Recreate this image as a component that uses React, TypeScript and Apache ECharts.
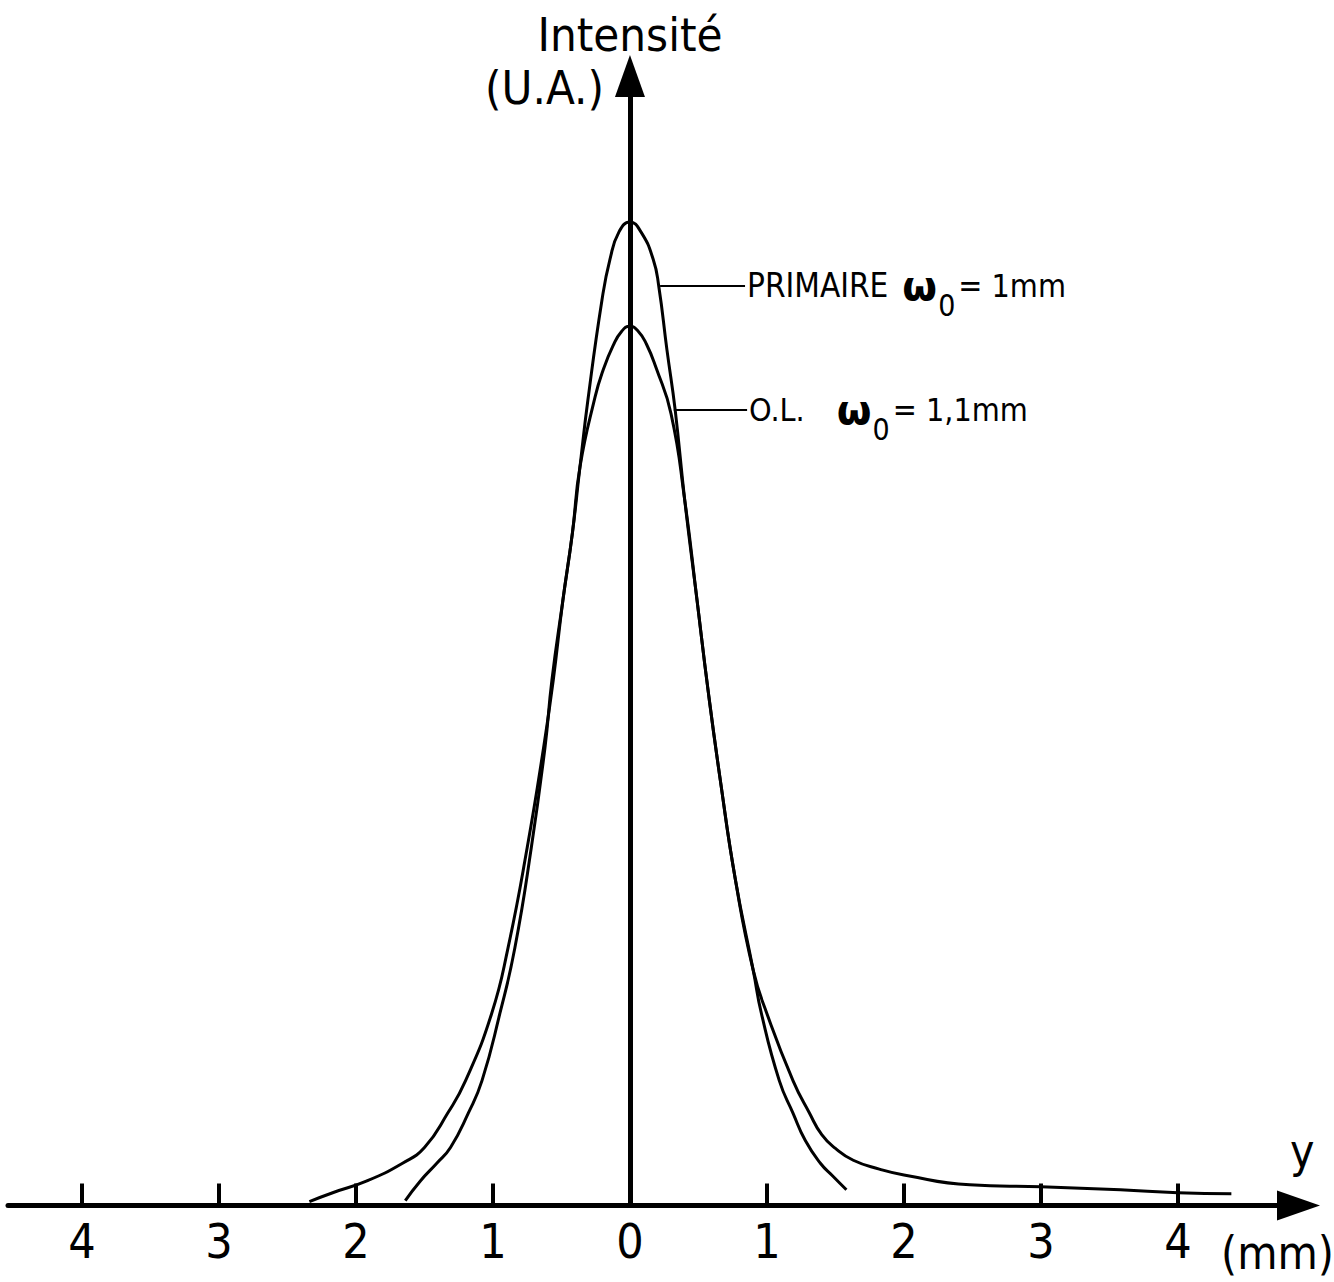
import React, { useEffect, useRef } from "react";
import * as echarts from "echarts";

// x: distance y in mm, y: intensity (arbitrary units, primary peak = 1)
const primaryX = [-1.64, -1.53, -1.41, -1.31, -1.18, -1.08, -0.95, -0.84, -0.72, -0.62, -0.57, -0.49, -0.42, -0.365, -0.307, -0.204, -0.146, -0.08, 0, 0.08, 0.17, 0.21, 0.27, 0.33, 0.4, 0.49, 0.57, 0.66, 0.77, 0.9, 0.96, 1.09, 1.19, 1.28, 1.39, 1.48, 1.58];
const primaryY = [0.005, 0.025, 0.043, 0.059, 0.094, 0.127, 0.195, 0.262, 0.364, 0.466, 0.534, 0.615, 0.684, 0.751, 0.819, 0.921, 0.962, 0.99, 1.0, 0.99, 0.962, 0.935, 0.87, 0.809, 0.717, 0.615, 0.524, 0.432, 0.331, 0.239, 0.195, 0.127, 0.094, 0.066, 0.043, 0.03, 0.016];

const olX = [-2.34, -2.17, -1.92, -1.66, -1.5, -1.33, -1.2, -1.01, -0.89, -0.75, -0.63, -0.56, -0.49, -0.42, -0.365, -0.255, -0.197, -0.124, -0.06, 0, 0.06, 0.12, 0.19, 0.3, 0.4, 0.49, 0.57, 0.66, 0.77, 0.9, 1.0, 1.19, 1.31, 1.4, 1.5, 1.63, 1.82, 2.0, 2.48, 3.0, 3.58, 4.0, 4.39];
const olY = [0.004, 0.013, 0.025, 0.043, 0.059, 0.094, 0.127, 0.195, 0.262, 0.364, 0.466, 0.534, 0.615, 0.684, 0.751, 0.822, 0.849, 0.874, 0.889, 0.894, 0.889, 0.876, 0.852, 0.805, 0.717, 0.615, 0.524, 0.432, 0.331, 0.239, 0.195, 0.127, 0.094, 0.072, 0.058, 0.046, 0.037, 0.031, 0.021, 0.019, 0.016, 0.013, 0.012];

const tickValues = [-4, -3, -2, -1, 1, 2, 3, 4];
const labelValues = [-4, -3, -2, -1, 0, 1, 2, 3, 4];

const primaryLeader = [[0.22, 0.935], [0.84, 0.935]];
const olLeader = [[0.32, 0.809], [0.855, 0.809]];

const FONT = '"DejaVu Sans Condensed", "Liberation Sans Narrow", "DejaVu Sans", sans-serif';

export default function App() {
  const ref = useRef<HTMLDivElement>(null);
  useEffect(() => {
    const chart = echarts.init(ref.current!, null, { renderer: "svg" });
    const pairs = (xs: number[], ys: number[]) => xs.map((x, i) => [x, ys[i]]);
    const richBase = {
      a: { fontSize: 33, fontFamily: FONT, color: "#000", padding: [0, 14, 0, 0] },
      o: { fontSize: 32, fontFamily: FONT, color: "#000", padding: [0, 32, 0, 0] },
      w: { fontSize: 40, fontFamily: '"DejaVu Sans", sans-serif', fontWeight: "bold", color: "#000", padding: [0, 1, 0, 0] },
      s: { fontSize: 30, fontFamily: FONT, color: "#000", padding: [40, 3, 0, 0] },
      e: { fontSize: 32, fontFamily: FONT, color: "#000" },
    };
    const leaderStyle = { color: "#000", width: 2, type: "solid" };
    chart.setOption({
      animation: false,
      backgroundColor: "#fff",
      grid: { left: 8, right: 35.5, top: 76, bottom: 76.5 },
      xAxis: {
        type: "value",
        min: -4.54,
        max: 4.88,
        splitLine: { show: false },
        axisLine: {
          onZero: true,
          symbol: ["none", "triangle"],
          symbolSize: [30, 43],
          lineStyle: { color: "#000", width: 5 },
        },
        axisTick: {
          show: true,
          inside: true,
          length: 22,
          customValues: tickValues,
          lineStyle: { color: "#000", width: 4 },
        },
        axisLabel: {
          customValues: labelValues,
          formatter: (v: number) => String(Math.abs(v)),
          margin: 11,
          fontSize: 48,
          color: "#000",
          fontFamily: FONT,
        },
      },
      yAxis: {
        type: "value",
        min: 0,
        max: 1.1485,
        z: 3,
        name: "Intensité",
        nameLocation: "end",
        nameGap: 18,
        nameTextStyle: { fontSize: 47, color: "#000", fontFamily: FONT },
        splitLine: { show: false },
        axisLine: {
          onZero: true,
          symbol: ["none", "triangle"],
          symbolSize: [30, 42],
          lineStyle: { color: "#000", width: 5 },
        },
        axisTick: { show: false },
        axisLabel: { show: false },
      },
      series: [
        {
          name: "PRIMAIRE",
          type: "line",
          data: pairs(primaryX, primaryY),
          showSymbol: false,
          smooth: 0.5,
          lineStyle: { color: "#000", width: 3 },
          markLine: {
            silent: true,
            symbol: ["none", "none"],
            lineStyle: leaderStyle,
            label: {
              show: true,
              position: "end",
              distance: 2,
              formatter: "{a|PRIMAIRE}{w|ω}{s|0}{e|= 1mm}",
              rich: richBase,
            },
            data: [[{ coord: primaryLeader[0] }, { coord: primaryLeader[1] }]],
          },
        },
        {
          name: "O.L.",
          type: "line",
          data: pairs(olX, olY),
          showSymbol: false,
          smooth: 0.5,
          lineStyle: { color: "#000", width: 3 },
          markLine: {
            silent: true,
            symbol: ["none", "none"],
            lineStyle: leaderStyle,
            label: {
              show: true,
              position: "end",
              distance: 2,
              formatter: "{o|O.L.}{w|ω}{s|0}{e|= 1,1mm}",
              rich: richBase,
            },
            data: [[{ coord: olLeader[0] }, { coord: olLeader[1] }]],
          },
        },
      ],
      graphic: [
        {
          type: "text",
          left: 485,
          top: 64,
          style: { text: "(U.A.)", fontSize: 47, fontFamily: FONT, fill: "#000" },
        },
        {
          type: "text",
          left: 1290,
          top: 1128,
          style: { text: "y", fontSize: 46, fontFamily: FONT, fill: "#000" },
        },
        {
          type: "text",
          left: 1221,
          top: 1230,
          style: { text: "(mm)", fontSize: 46, fontFamily: FONT, fill: "#000" },
        },
      ],
    });
    return () => chart.dispose();
  }, []);
  return (
    <div
      ref={ref}
      style={{ position: "absolute", left: 0, top: 0, width: 1334, height: 1282, background: "#fff" }}
    />
  );
}
